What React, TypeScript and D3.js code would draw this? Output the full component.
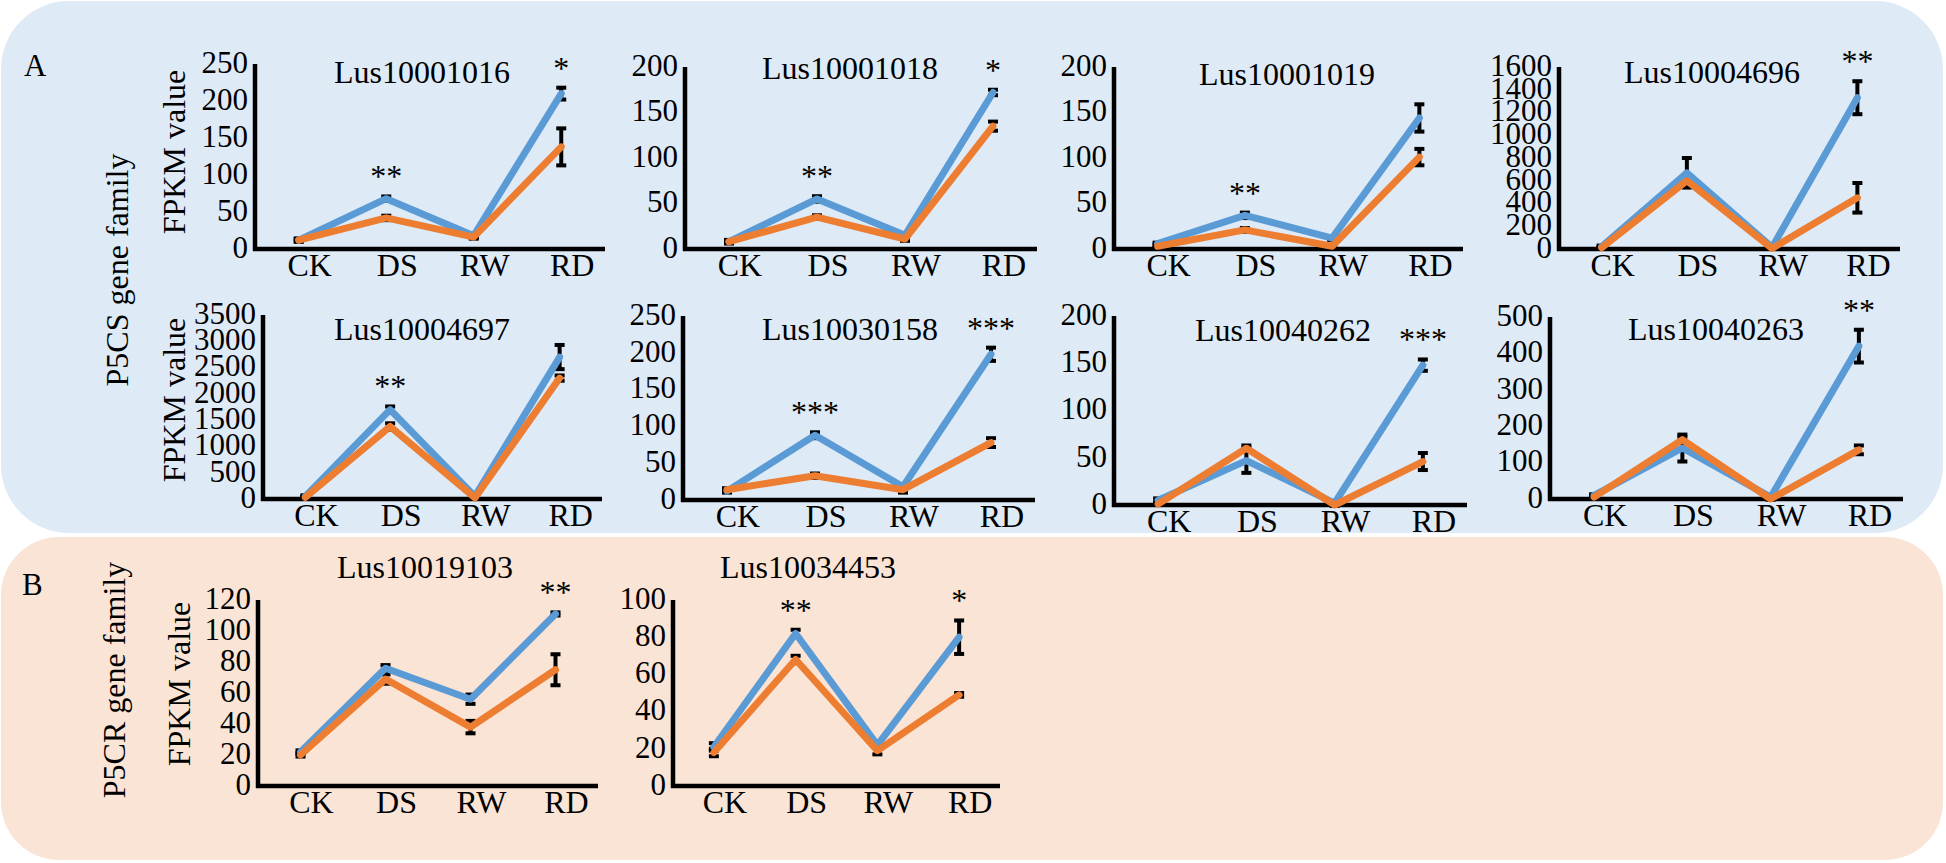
import React, { useEffect, useRef } from "react";
import * as d3 from "d3";

const categories = ["CK", "DS", "RW", "RD"];

const genes = [
  "Lus10001016", "Lus10001018", "Lus10001019", "Lus10004696",
  "Lus10004697", "Lus10030158", "Lus10040262", "Lus10040263",
  "Lus10019103", "Lus10034453",
];

// blue series (first genotype)
const blueMeans = [
  [12, 68, 18, 210],
  [8, 55, 15, 172],
  [6, 37, 12, 144],
  [20, 670, 15, 1330],
  [50, 1700, 50, 2700],
  [12, 88, 18, 198],
  [5, 47, 2, 148],
  [10, 140, 5, 420],
  [22, 76, 56, 111],
  [21, 82, 22, 80],
];
const blueErrs = [
  [2, 3, 2, 8],
  [2, 3, 2, 3],
  [1, 3, 2, 15],
  [10, 130, 5, 145],
  [20, 60, 20, 230],
  [2, 4, 3, 9],
  [2, 13, 1, 6],
  [3, 37, 2, 45],
  [1, 2, 3, 1],
  [2, 2, 1, 9],
];

// orange series (second genotype)
const orangeMeans = [
  [12, 42, 16, 138],
  [8, 35, 11, 135],
  [3, 21, 3, 101],
  [12, 600, 5, 450],
  [30, 1380, 20, 2300],
  [14, 33, 14, 78],
  [1, 60, 0, 46],
  [5, 163, 0, 135],
  [20, 69, 38, 75],
  [18, 68, 19, 49],
];
const orangeErrs = [
  [2, 3, 2, 25],
  [1, 2, 2, 5],
  [1, 2, 1, 9],
  [5, 40, 5, 130],
  [10, 60, 10, 50],
  [2, 3, 4, 6],
  [1, 3, 1, 9],
  [3, 8, 2, 12],
  [1, 3, 4, 10],
  [2, 2, 2, 1],
];

const yMaxes = [250, 200, 200, 1600, 3500, 250, 200, 500, 120, 100];
const yStepSizes = [50, 50, 50, 200, 500, 50, 50, 100, 20, 20];

const starMarks = [
  ["", "**", "", "*"],
  ["", "**", "", "*"],
  ["", "**", "", ""],
  ["", "", "", "**"],
  ["", "**", "", ""],
  ["", "***", "", "***"],
  ["", "", "", "***"],
  ["", "", "", "**"],
  ["", "", "", "**"],
  ["", "**", "", "*"],
];

// where each small chart sits on the page (axis box + title anchor)
const frames = [
  { x0: 255, x1: 605, y0: 64, y1: 249, tx: 422, ty: 83 },
  { x0: 685, x1: 1037, y0: 67, y1: 249, tx: 850, ty: 79 },
  { x0: 1114, x1: 1463, y0: 67, y1: 249, tx: 1287, ty: 85 },
  { x0: 1559, x1: 1900, y0: 67, y1: 249, tx: 1712, ty: 83 },
  { x0: 263, x1: 602, y0: 315, y1: 499, tx: 422, ty: 340 },
  { x0: 683, x1: 1035, y0: 316, y1: 500, tx: 850, ty: 340 },
  { x0: 1114, x1: 1467, y0: 316, y1: 505, tx: 1283, ty: 341 },
  { x0: 1550, x1: 1903, y0: 317, y1: 499, tx: 1716, ty: 340 },
  { x0: 258, x1: 598, y0: 600, y1: 786, tx: 425, ty: 578 },
  { x0: 673, x1: 1000, y0: 600, y1: 786, tx: 808, ty: 578 },
];

const BLUE = "#5B9BD5";
const ORANGE = "#ED7D31";
const FONT = "'Liberation Serif', 'Times New Roman', serif";

const App = () => {
  const svgRef = useRef(null);

  useEffect(() => {
    const width = 1946;
    const height = 863;
    const svg = d3.select(svgRef.current).attr("width", width).attr("height", height);
    svg.selectAll("*").remove();

    // group backgrounds
    svg.append("rect").attr("x", 1).attr("y", 1).attr("width", 1942).attr("height", 532)
      .attr("rx", 68).attr("fill", "#DEEAF6");
    svg.append("rect").attr("x", 1).attr("y", 537).attr("width", 1942).attr("height", 323)
      .attr("rx", 58).attr("fill", "#FAE4D6");

    const label = (txt, x, y, size, rotate = false, anchor = "start") => {
      const t = svg.append("text")
        .attr("font-family", FONT)
        .attr("font-size", size)
        .attr("fill", "#000")
        .attr("text-anchor", anchor)
        .text(txt);
      if (rotate) t.attr("transform", `translate(${x},${y}) rotate(-90)`);
      else t.attr("x", x).attr("y", y);
      return t;
    };

    label("A", 24, 76, 31);
    label("B", 22, 595, 31);
    label("P5CS gene family", 128, 270, 32, true, "middle");
    label("P5CR gene family", 125, 680, 32, true, "middle");
    label("FPKM value", 185, 152, 32, true, "middle");
    label("FPKM value", 185, 400, 32, true, "middle");
    label("FPKM value", 190, 684, 32, true, "middle");

    genes.forEach((gene, p) => {
      const f = frames[p];
      const g = svg.append("g");

      const x = d3.scalePoint().domain(categories).range([f.x0, f.x1]).padding(0.5);
      const y = d3.scaleLinear().domain([0, yMaxes[p]]).range([f.y1, f.y0]);
      const ticks = d3.range(0, yMaxes[p] + 1, yStepSizes[p]);

      // tick labels
      g.selectAll(".ytick")
        .data(ticks)
        .join("text")
        .attr("class", "ytick")
        .attr("x", f.x0 - 7)
        .attr("y", (d) => y(d) - 2)
        .attr("dy", "0.35em")
        .attr("text-anchor", "end")
        .attr("font-family", FONT)
        .attr("font-size", 31)
        .text((d) => d);

      g.selectAll(".xtick")
        .data(categories)
        .join("text")
        .attr("class", "xtick")
        .attr("x", (d) => x(d) + 11)
        .attr("y", f.y1 + 27)
        .attr("text-anchor", "middle")
        .attr("font-family", FONT)
        .attr("font-size", 32)
        .text((d) => d);

      // axes
      g.append("line").attr("x1", f.x0).attr("x2", f.x0).attr("y1", f.y0).attr("y2", f.y1 + 2)
        .attr("stroke", "#000").attr("stroke-width", 4.5);
      g.append("line").attr("x1", f.x0 - 2).attr("x2", f.x1).attr("y1", f.y1).attr("y2", f.y1)
        .attr("stroke", "#000").attr("stroke-width", 4.5);

      g.append("text")
        .attr("x", f.tx)
        .attr("y", f.ty)
        .attr("text-anchor", "middle")
        .attr("font-family", FONT)
        .attr("font-size", 32)
        .text(gene);

      const series = [
        { means: blueMeans[p], errs: blueErrs[p], color: BLUE },
        { means: orangeMeans[p], errs: orangeErrs[p], color: ORANGE },
      ];

      // error bars under the lines
      series.forEach((s) => {
        const rows = categories.map((c, i) => ({ c, lo: s.means[i] - s.errs[i], hi: s.means[i] + s.errs[i] }));
        const eb = g.append("g").attr("stroke", "#000").attr("stroke-width", 4);
        eb.selectAll(".stem").data(rows).join("line")
          .attr("x1", (d) => x(d.c)).attr("x2", (d) => x(d.c))
          .attr("y1", (d) => y(d.lo)).attr("y2", (d) => y(d.hi));
        eb.selectAll(".capHi").data(rows).join("line")
          .attr("x1", (d) => x(d.c) - 5).attr("x2", (d) => x(d.c) + 5)
          .attr("y1", (d) => y(d.hi)).attr("y2", (d) => y(d.hi));
        eb.selectAll(".capLo").data(rows).join("line")
          .attr("x1", (d) => x(d.c) - 5).attr("x2", (d) => x(d.c) + 5)
          .attr("y1", (d) => y(d.lo)).attr("y2", (d) => y(d.lo));
      });

      series.forEach((s) => {
        const line = d3.line()
          .x((d, i) => x(categories[i]))
          .y((d) => y(d));
        g.append("path")
          .attr("d", line(s.means))
          .attr("fill", "none")
          .attr("stroke", s.color)
          .attr("stroke-width", 7)
          .attr("stroke-linejoin", "round")
          .attr("stroke-linecap", "round");
      });

      // significance marks above the highest bar
      categories.forEach((c, i) => {
        const mark = starMarks[p][i];
        if (!mark) return;
        const top = Math.max(blueMeans[p][i] + blueErrs[p][i], orangeMeans[p][i] + orangeErrs[p][i]);
        g.append("text")
          .attr("x", x(c))
          .attr("y", y(top) - 9)
          .attr("text-anchor", "middle")
          .attr("font-family", FONT)
          .attr("font-size", 32)
          .text(mark);
      });
    });
  }, []);

  return (
    <svg ref={svgRef} style={{ position: "absolute", left: 0, top: 0, display: "block", background: "#fff" }} />
  );
};

export default App;
